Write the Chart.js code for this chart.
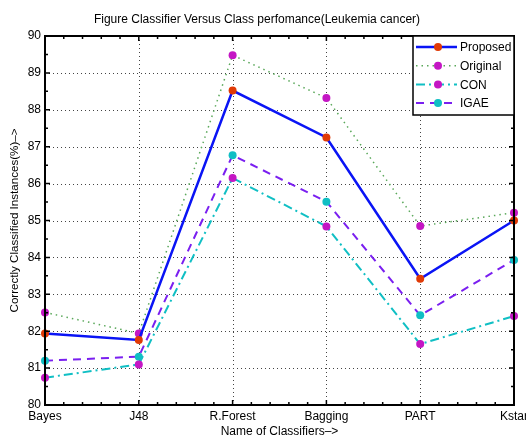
<!DOCTYPE html>
<html lang="en">
  <head>
    <meta charset="utf-8">
    <script src="https://cdn.jsdelivr.net/npm/chart.js@4.4.1/dist/chart.umd.min.js"></script>
    <title>Classifier performance</title>
    <style>
      body { margin: 0; background: #fff; }
    </style>
  </head>
  <body>
    <canvas id="myChart" width="526" height="439"></canvas>
    <script type="text/javascript">
      const classifiers = ['Bayes', 'J48', 'R.Forest', 'Bagging', 'PART', 'Kstar'];
      const proposed = [81.94, 81.76, 88.52, 87.25, 83.42, 85.00];
      const original = [82.51, 81.94, 89.48, 88.32, 84.85, 85.21];
      const con      = [80.74, 81.10, 86.15, 84.84, 81.65, 82.41];
      const igae     = [81.20, 81.31, 86.77, 85.51, 82.43, 83.93];
      const yTicks = [80, 81, 82, 83, 84, 85, 86, 87, 88, 89, 90];

      const font = 'Liberation Sans, Arial, sans-serif';

      // box, inward ticks and dotted grid like the matlab figure
      const axesBox = {
        id: 'axesBox',
        beforeDatasetsDraw(chart) {
          const {ctx, chartArea: a, scales: {x, y}} = chart;
          ctx.save();
          ctx.strokeStyle = '#444';
          ctx.lineWidth = 1;
          ctx.setLineDash([1, 3]);
          yTicks.forEach(v => {
            const py = Math.round(y.getPixelForValue(v)) + 0.5;
            ctx.beginPath(); ctx.moveTo(a.left, py); ctx.lineTo(a.right, py); ctx.stroke();
          });
          classifiers.forEach((c, i) => {
            const px = Math.round(x.getPixelForValue(i)) + 0.5;
            ctx.beginPath(); ctx.moveTo(px, a.top); ctx.lineTo(px, a.bottom); ctx.stroke();
          });
          ctx.restore();
        },
        afterDatasetsDraw(chart) {
          const {ctx, chartArea: a, scales: {x, y}} = chart;
          ctx.save();
          ctx.strokeStyle = '#000';
          ctx.lineWidth = 1.5;
          // minor + major ticks on y (half units)
          for (let v = 80; v <= 90; v += 0.5) {
            const py = y.getPixelForValue(v);
            const len = Number.isInteger(v) ? 5 : 3;
            ctx.beginPath();
            ctx.moveTo(a.left, py); ctx.lineTo(a.left + len, py);
            ctx.moveTo(a.right, py); ctx.lineTo(a.right - len, py);
            ctx.stroke();
          }
          // x ticks, minor every fifth of a category
          for (let k = 0; k <= (classifiers.length - 1) * 5; k++) {
            const px = x.getPixelForValue(k / 5);
            const len = k % 5 === 0 ? 5 : 3;
            ctx.beginPath();
            ctx.moveTo(px, a.bottom); ctx.lineTo(px, a.bottom - len);
            ctx.moveTo(px, a.top); ctx.lineTo(px, a.top + len);
            ctx.stroke();
          }
          ctx.lineWidth = 2;
          ctx.strokeRect(a.left, a.top, a.right - a.left, a.bottom - a.top);
          ctx.restore();
        },
        afterDraw(chart) {
          // legend box top right
          const {ctx, chartArea: a} = chart;
          const w = 101, h = 79;
          const lx = a.right - w, ly = a.top;
          ctx.save();
          ctx.fillStyle = '#fff';
          ctx.fillRect(lx, ly, w, h);
          ctx.strokeStyle = '#000';
          ctx.lineWidth = 1.5;
          ctx.strokeRect(lx, ly, w, h);
          chart.data.datasets.forEach((ds, i) => {
            const cy = ly + 11 + i * 18.7;
            ctx.strokeStyle = ds.borderColor;
            ctx.lineWidth = ds.borderWidth;
            ctx.setLineDash(ds.borderDash || []);
            ctx.beginPath(); ctx.moveTo(lx + 3, cy); ctx.lineTo(lx + 44, cy); ctx.stroke();
            ctx.setLineDash([]);
            ctx.fillStyle = ds.pointBackgroundColor;
            ctx.beginPath(); ctx.arc(lx + 25, cy, 4, 0, Math.PI * 2); ctx.fill();
            ctx.fillStyle = '#000';
            ctx.font = '12px ' + font;
            ctx.textBaseline = 'middle';
            ctx.fillText(ds.label, lx + 47, cy + 1);
          });
          ctx.restore();
        }
      };

      function series(label, data, line, marker, width, dash) {
        return {
          label: label,
          data: data,
          borderColor: line,
          borderWidth: width,
          borderDash: dash,
          pointBackgroundColor: marker,
          pointBorderColor: marker,
          pointRadius: 4,
          pointBorderWidth: 0,
          tension: 0,
          clip: false
        };
      }

      const ctx = document.getElementById('myChart').getContext('2d');
      const myChart = new Chart(ctx, {
        type: 'line',
        data: {
          labels: classifiers,
          datasets: [
            series('Proposed', proposed, '#0a14f5', '#e03a06', 2.5, []),
            series('Original', original, '#5aa85a', '#c416c4', 1.5, [1.5, 4]),
            series('CON', con, '#10bfc4', '#c416c4', 2, [9, 4, 2, 4]),
            series('IGAE', igae, '#7a1ff0', '#10bfc4', 2, [8, 6])
          ]
        },
        options: {
          responsive: false,
          animation: false,
          layout: { padding: { left: 0, right: 12, top: 0, bottom: 0 } },
          plugins: {
            legend: { display: false },
            tooltip: { enabled: false },
            title: {
              display: true,
              text: 'Figure Classifier Versus Class perfomance(Leukemia cancer)',
              color: '#000',
              font: { family: font, size: 12, weight: 'normal' },
              padding: { top: 12, bottom: 9.6 }
            }
          },
          scales: {
            x: {
              type: 'category',
              offset: false,
              grid: { display: false, drawTicks: false },
              border: { display: false },
              ticks: { color: '#000', font: { family: font, size: 12 }, padding: 4, maxRotation: 0, autoSkip: false },
              title: {
                display: true,
                text: 'Name of Classifiers\u2013>',
                color: '#000',
                font: { family: font, size: 12 },
                padding: { top: 0, bottom: 0 }
              },
              afterFit: s => { s.height = 34; s.paddingLeft = 0; s.paddingRight = 0; }
            },
            y: {
              min: 80,
              max: 90,
              grid: { display: false, drawTicks: false },
              border: { display: false },
              afterBuildTicks: s => { s.ticks = yTicks.map(v => ({ value: v })); },
              ticks: { color: '#000', font: { family: font, size: 12 }, padding: 4 },
              title: {
                display: true,
                text: 'Correctly Classified Instances(%)\u2013>',
                color: '#000',
                font: { family: font, size: 11.6 },
                padding: { top: 8, bottom: 0 }
              },
              afterFit: s => { s.width = 45; }
            }
          }
        },
        plugins: [axesBox]
      });
    </script>
  </body>
</html>
